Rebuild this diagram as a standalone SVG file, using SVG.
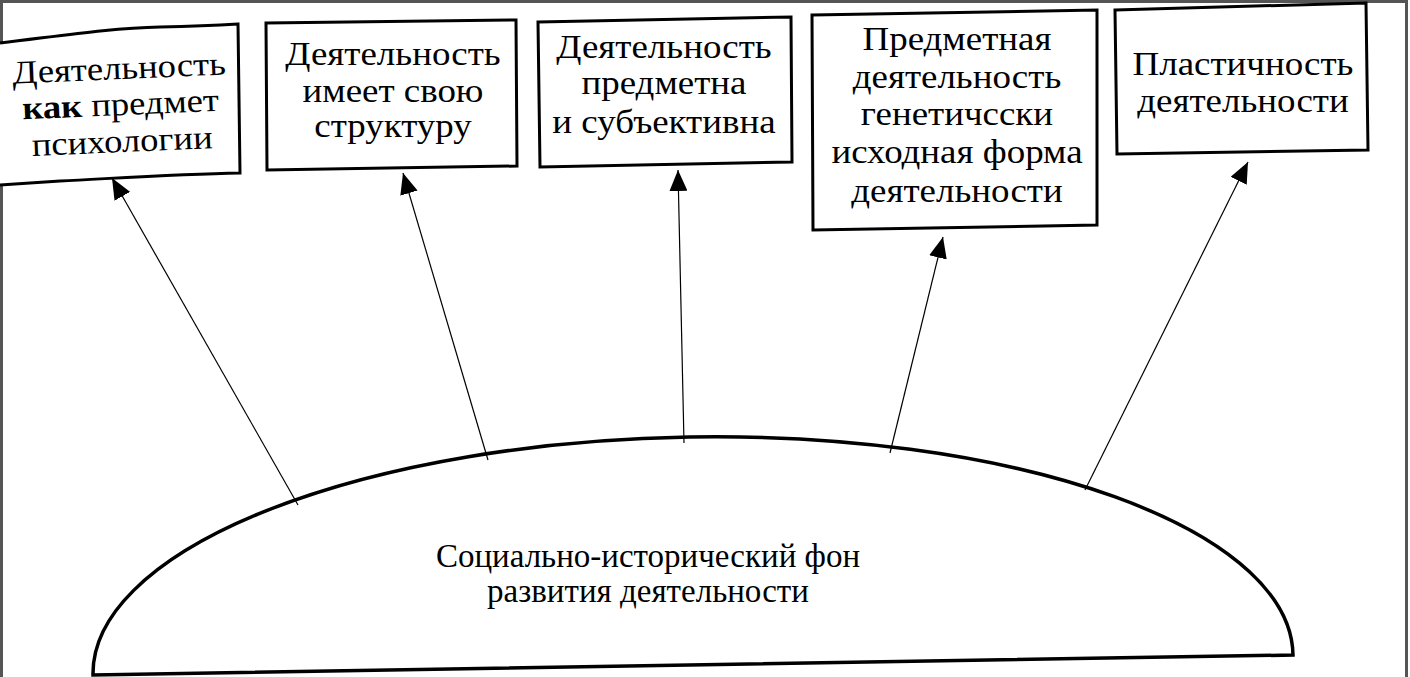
<svg xmlns="http://www.w3.org/2000/svg" width="1410" height="677" viewBox="0 0 1410 677">
<style>
.box{fill:#fff;stroke:#000;stroke-width:3}
.t{font-family:"Liberation Serif","Times New Roman",serif;font-size:33px;fill:#000;text-anchor:middle}
.b{font-weight:bold}
.con{stroke:#000;stroke-width:1.2;fill:none;marker-end:url(#ah)}
</style>
<defs>
<marker id="ah" viewBox="0 0 21 18" refX="21" refY="9" markerWidth="21" markerHeight="18" markerUnits="userSpaceOnUse" orient="auto">
<path d="M0,0 L21,9 L0,18 Z" fill="#000"/>
</marker>
</defs>
<rect width="1410" height="677" fill="#fff"/>
<path d="M1.5,677 V1.5 H1406.5 V677" fill="none" stroke="#555" stroke-width="3"/>

<g id="base">
<path d="M93,675 A600,228 -0.95 0 1 1293,655 Z" fill="#fff" stroke="#000" stroke-width="3.5"/>
<text class="t" x="648" y="567">Социально-исторический фон</text>
<text class="t" x="648" y="602">развития деятельности</text>
</g>

<g id="connectors">
<line class="con" x1="298" y1="505" x2="112" y2="178"/>
<line class="con" x1="488" y1="460" x2="403" y2="173"/>
<line class="con" x1="684" y1="443" x2="678" y2="170"/>
<line class="con" x1="890" y1="453" x2="943" y2="237"/>
<line class="con" x1="1085" y1="490" x2="1248" y2="162"/>
</g>

<g id="n1">
<path class="box" d="M0,43 C60,36 110,28 160,27 C200,26 220,25 238,24 L240,173 C180,174 120,178 60,181 L0,185"/>
<g transform="rotate(-2.5 122 115) translate(121,0) scale(1.11,1) translate(-121,0)">
<text class="t" x="121" y="79">Деятельность</text>
<text class="t" x="121" y="115"><tspan class="b">как</tspan> предмет</text>
<text class="t" x="121" y="152">психологии</text>
</g>
</g>

<g id="n2">
<polygon class="box" points="266,23 516,20 517,166 267,170"/>
<g transform="translate(393,0) scale(1.12,1) translate(-393,0)">
<text class="t" x="393" y="65">Деятельность</text>
<text class="t" x="393" y="102">имеет свою</text>
<text class="t" x="393" y="137">структуру</text>
</g>
</g>

<g id="n3">
<polygon class="box" points="538,22 791,17 792,162 540,167"/>
<g transform="translate(664,0) scale(1.12,1) translate(-664,0)">
<text class="t" x="664" y="58">Деятельность</text>
<text class="t" x="664" y="94">предметна</text>
<text class="t" x="664" y="133">и субъективна</text>
</g>
</g>

<g id="n4">
<polygon class="box" points="812,15 1097,10 1097,225 813,230"/>
<g transform="translate(957,0) scale(1.12,1) translate(-957,0)">
<text class="t" x="957" y="50">Предметная</text>
<text class="t" x="957" y="88">деятельность</text>
<text class="t" x="957" y="125">генетичсски</text>
<text class="t" x="957" y="163">исходная форма</text>
<text class="t" x="957" y="202">деятельности</text>
</g>
</g>

<g id="n5">
<polygon class="box" points="1115,10 1366,3 1368,150 1117,154"/>
<g transform="translate(1243,0) scale(1.12,1) translate(-1243,0)">
<text class="t" x="1243" y="75">Пластичность</text>
<text class="t" x="1243" y="112">деятельности</text>
</g>
</g>
</svg>
